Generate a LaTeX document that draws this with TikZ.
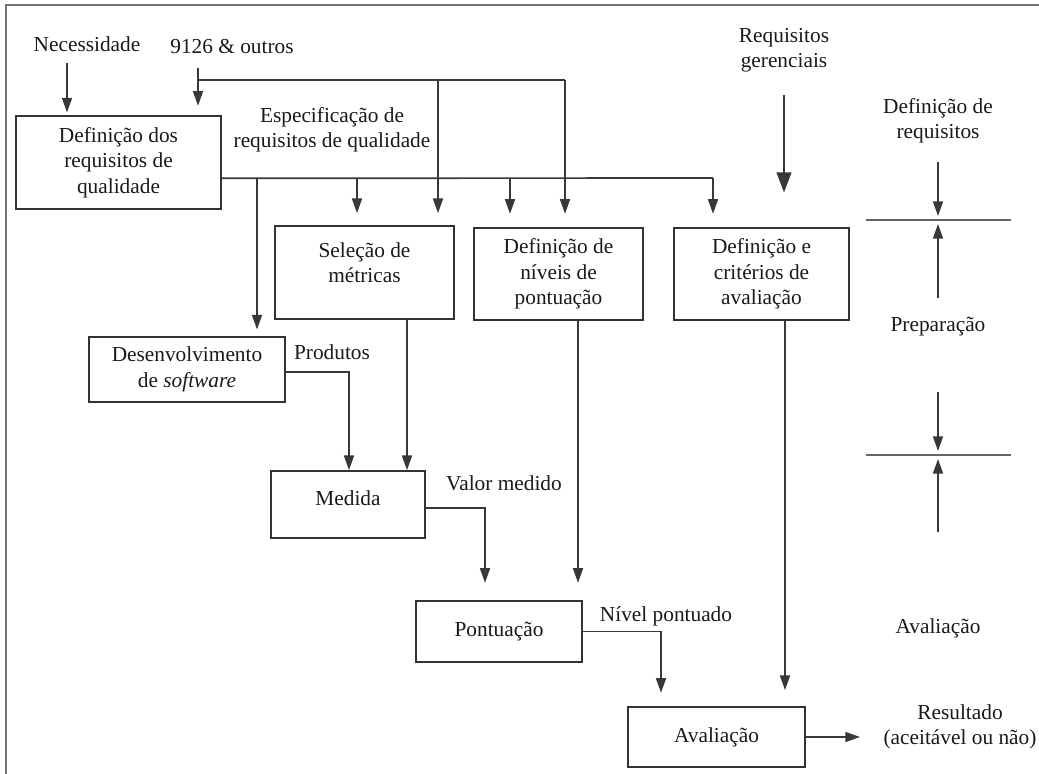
\documentclass[tikz,border=0pt]{standalone}
\usepackage{fontspec}
\setmainfont{Liberation Serif}
\usetikzlibrary{arrows.meta,calc}
\begin{document}
\begin{tikzpicture}[x=0.75pt,y=-0.75pt,
  txt/.style={font=\fontsize{16}{19}\selectfont, text=black!90},
  box/.style={txt, draw=black!80, line width=1.3pt, align=center, inner sep=0pt},
  lbl/.style={txt, align=center, inner sep=0pt},
  link/.style={draw=black!78, line width=1.25pt},
  arr/.style={link, -{Triangle[length=11pt,width=7.5pt]}},
  bigarr/.style={link, -{Triangle[length=15pt,width=11pt]}},
  rule/.style={draw=black!60, line width=1.5pt}]
\useasboundingbox (0,0) rectangle (1039,774);
% frame
\draw[draw=black!55, line width=1.6pt] (6,774) -- (6,5) -- (1039,5);

% boxes
\node[box, minimum width=153.75pt, minimum height=69.75pt] (req) at (118.5,162.5) {Definição dos\\requisitos de\\qualidade};
\node[box, minimum width=134.25pt, minimum height=69.75pt] (sel) at (364.5,272.5) {};
\node[lbl] (selt) at ($(sel.center)+(0,-10)$) {Seleção de\\métricas};
\node[box, minimum width=126.75pt, minimum height=69pt] (niv) at (558.5,274) {Definição de\\níveis de\\pontuação};
\node[box, minimum width=131.25pt, minimum height=69pt] (cri) at (761.5,274) {Definição e\\critérios de\\avaliação};
\node[box, minimum width=147pt, minimum height=48.75pt] (des) at (187,369.5) {Desenvolvimento\\de \textit{software}};
\node[box, minimum width=115.5pt, minimum height=50.25pt] (med) at (348,504.5) {};
\node[lbl] (medt) at ($(med.center)+(0,-6)$) {Medida};
\node[box, minimum width=124.5pt, minimum height=45.75pt] (pon) at (499,631.5) {Pontuação};
\node[box, minimum width=132.75pt, minimum height=45pt] (ava) at (716.5,737) {Avaliação};

% texts
\node[lbl] (nec) at (87,44) {Necessidade};
\node[lbl] (iso) at (232,47) {9126 \& outros};
\node[lbl] (esp) at (332,130) {Especificação de\\requisitos de qualidade};
\node[lbl] (rg) at (784,50) {Requisitos\\gerenciais};
\node[lbl] (dr) at (938,121) {Definição de\\requisitos};
\node[lbl] (prep) at (938,327) {Preparação};
\node[lbl] (avr) at (938,628) {Avaliação};
\node[lbl] (prod) at (332,352) {Produtos};
\node[lbl] (vm) at (504,483) {Valor medido};
\node[lbl] (np) at (666,616) {Nível pontuado};
\node[lbl] (res) at (960,727) {Resultado\\(aceitável ou não)};

% Necessidade
\coordinate (n1) at (67,63);
\draw[arr, shorten >=2pt] (n1) -- (n1 |- req.north);
% 9126 & outros
\coordinate (o1) at (198,68);
\coordinate (o2) at (198,80);
\coordinate (o3) at (438,80);
\coordinate (o4) at (565,80);
\draw[arr, shorten >=7pt] (o1) -- (o1 |- req.north);
\draw[link] (o2) -- (o4);
\draw[arr, shorten >=9pt] (o3) -- (o3 |- sel.north);
\draw[arr, shorten >=10pt] (o4) -- (o4 |- niv.north);
% Especificacao line
\coordinate (s0) at ($(req.north east)!0.667!(req.south east)$);
\coordinate (s1) at (257,178);
\coordinate (s2) at (357,178);
\coordinate (s3) at (510,178);
\coordinate (s4) at (713,178);
\draw[link] (s0) -- (s4);
\draw[arr, shorten >=5pt] (s1) -- (s1 |- des.north);
\draw[arr, shorten >=9pt] (s2) -- (s2 |- sel.north);
\draw[arr, shorten >=10pt] (s3) -- (s3 |- niv.north);
\draw[arr, shorten >=10pt] (s4) -- (s4 |- cri.north);
% Requisitos gerenciais
\coordinate (g1) at (784,95);
\draw[bigarr, shorten >=26pt] (g1) -- (g1 |- cri.north);

% right column
\coordinate (l1a) at (866,220);
\coordinate (l1b) at (1011,220);
\coordinate (l2a) at (866,455);
\coordinate (l2b) at (1011,455);
\draw[rule] (l1a) -- (l1b);
\draw[rule] (l2a) -- (l2b);
\coordinate (r1) at (938,162);
\coordinate (r2) at (938,298);
\coordinate (r3) at (938,392);
\coordinate (r4) at (938,532);
\draw[arr, shorten >=3pt] (r1) -- (r1 |- l1a);
\draw[arr, shorten >=3pt] (r2) -- (r2 |- l1a);
\draw[arr, shorten >=3pt] (r3) -- (r3 |- l2a);
\draw[arr, shorten >=3pt] (r4) -- (r4 |- l2a);

% Desenvolvimento -> Medida
\coordinate (d0) at ($(des.north east)!0.54!(des.south east)$);
\coordinate (d1) at (349,0);
\draw[arr] (d0) -| (d1 |- med.north);
% Selecao -> Medida
\coordinate (m1) at (407,0);
\draw[arr] (m1 |- sel.south) -- (m1 |- med.north);
% Medida -> Pontuacao
\coordinate (v0) at ($(med.north east)!0.55!(med.south east)$);
\coordinate (v1) at (485,0);
\draw[arr, shorten >=13pt] (v0) -| (v1 |- pon.north);
% Niveis -> Pontuacao
\coordinate (p1) at (578,0);
\draw[arr, shorten >=13pt] (p1 |- niv.south) -- (p1 |- pon.north);
% Pontuacao -> Avaliacao
\coordinate (a0) at ($(pon.north east)!0.5!(pon.south east)$);
\coordinate (a1) at (661,0);
\draw[arr, shorten >=10pt] (a0) -| (a1 |- ava.north);
% Criterios -> Avaliacao
\coordinate (c1) at (785,0);
\draw[arr, shorten >=12pt] (c1 |- cri.south) -- (c1 |- ava.north);
% Avaliacao -> Resultado
\coordinate (e1) at (860,0);
\draw[arr] (ava.east) -- (e1 |- ava.east);
\end{tikzpicture}
\end{document}
